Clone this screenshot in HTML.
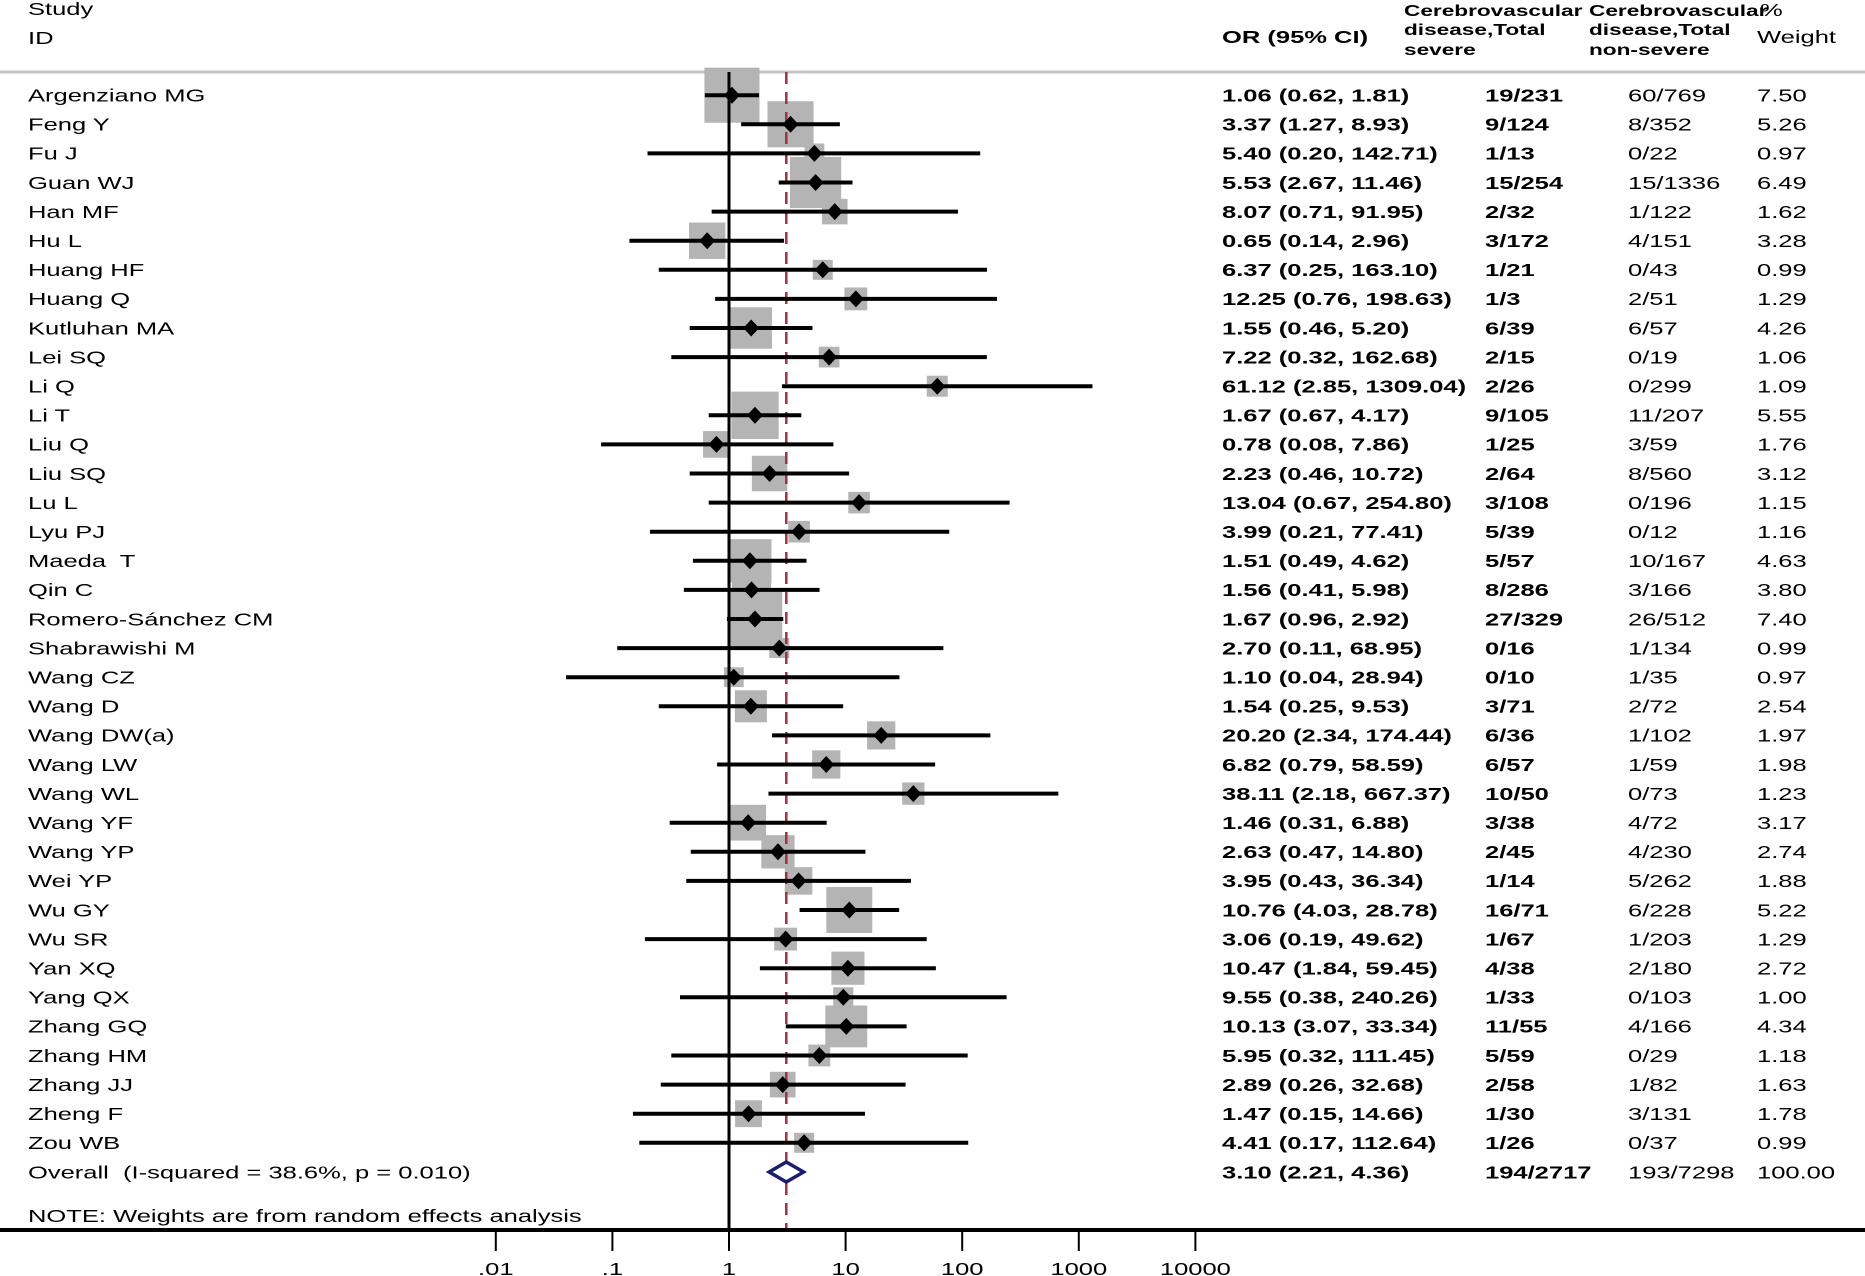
<!DOCTYPE html>
<html><head><meta charset="utf-8"><style>
html,body{margin:0;padding:0;background:#fff;}
svg{display:block;}
text{font-family:"Liberation Sans",Arial,sans-serif;fill:#000;white-space:pre;}
</style></head><body>
<svg id="chart" width="1865" height="1276" viewBox="0 0 1865 1276" xmlns="http://www.w3.org/2000/svg" xml:space="preserve"></svg>
<script>
const studies=["Argenziano MG","Feng Y","Fu J","Guan WJ","Han MF","Hu L","Huang HF","Huang Q","Kutluhan MA","Lei SQ","Li Q","Li T","Liu Q","Liu SQ","Lu L","Lyu PJ","Maeda  T","Qin C","Romero-Sánchez CM","Shabrawishi M","Wang CZ","Wang D","Wang DW(a)","Wang LW","Wang WL","Wang YF","Wang YP","Wei YP","Wu GY","Wu SR","Yan XQ","Yang QX","Zhang GQ","Zhang HM","Zhang JJ","Zheng F","Zou WB"];
const orVals=[1.06,3.37,5.40,5.53,8.07,0.65,6.37,12.25,1.55,7.22,61.12,1.67,0.78,2.23,13.04,3.99,1.51,1.56,1.67,2.70,1.10,1.54,20.20,6.82,38.11,1.46,2.63,3.95,10.76,3.06,10.47,9.55,10.13,5.95,2.89,1.47,4.41];
const loVals=[0.62,1.27,0.20,2.67,0.71,0.14,0.25,0.76,0.46,0.32,2.85,0.67,0.08,0.46,0.67,0.21,0.49,0.41,0.96,0.11,0.04,0.25,2.34,0.79,2.18,0.31,0.47,0.43,4.03,0.19,1.84,0.38,3.07,0.32,0.26,0.15,0.17];
const hiVals=[1.81,8.93,142.71,11.46,91.95,2.96,163.10,198.63,5.20,162.68,1309.04,4.17,7.86,10.72,254.80,77.41,4.62,5.98,2.92,68.95,28.94,9.53,174.44,58.59,667.37,6.88,14.80,36.34,28.78,49.62,59.45,240.26,33.34,111.45,32.68,14.66,112.64];
const severe=["19/231","9/124","1/13","15/254","2/32","3/172","1/21","1/3","6/39","2/15","2/26","9/105","1/25","2/64","3/108","5/39","5/57","8/286","27/329","0/16","0/10","3/71","6/36","6/57","10/50","3/38","2/45","1/14","16/71","1/67","4/38","1/33","11/55","5/59","2/58","1/30","1/26"];
const nonsevere=["60/769","8/352","0/22","15/1336","1/122","4/151","0/43","2/51","6/57","0/19","0/299","11/207","3/59","8/560","0/196","0/12","10/167","3/166","26/512","1/134","1/35","2/72","1/102","1/59","0/73","4/72","4/230","5/262","6/228","1/203","2/180","0/103","4/166","0/29","1/82","3/131","0/37"];
const weights=[7.50,5.26,0.97,6.49,1.62,3.28,0.99,1.29,4.26,1.06,1.09,5.55,1.76,3.12,1.15,1.16,4.63,3.80,7.40,0.99,0.97,2.54,1.97,1.98,1.23,3.17,2.74,1.88,5.22,1.29,2.72,1.00,4.34,1.18,1.63,1.78,0.99];
const overall=[3.10,2.21,4.36];
const tickVals=[0.01,0.1,1,10,100,1000,10000];
const tickLabels=[".01",".1","1","10","100","1000","10000"];

const svg=document.getElementById('chart');
const NS='http://www.w3.org/2000/svg';
const X0=729, DEC=116.6, Y0=95.2, DY=29.1, FS=17.5, SX=1.46;
const xs=v=>X0+Math.log10(v)*DEC;
const ys=i=>Y0+i*DY;
function mk(tag,attrs){const e=document.createElementNS(NS,tag);for(const k in attrs)e.setAttribute(k,attrs[k]);svg.appendChild(e);return e;}
function txt(x,y,s,size,bold,anchor){
  const t=mk('text',{transform:`translate(${x},${y}) scale(${SX},1)`,'font-size':size,'font-weight':bold?'bold':'normal','text-anchor':anchor||'start'});
  t.textContent=s;return t;}

let t;
t=txt(28,15,"Study",FS,false);


t=txt(28,44,"ID",FS,false);


t=txt(1222,43,"OR (95% CI)",FS,true);


[["Cerebrovascular",16],["disease,Total",35],["severe",55]].forEach(([s,y])=>{
  const e=txt(1404,y,s,15.5,true);
  
  
});
[["Cerebrovascular",16],["disease,Total",35],["non-severe",55]].forEach(([s,y])=>{
  const e=txt(1589,y,s,15.5,true);
  
  
});
t=txt(1760,16,"%",FS,false);


t=txt(1757,43,"Weight",FS,false);



let r=mk('rect',{x:0,y:70.5,width:1865,height:3,fill:'#c4c4c4'});



studies.forEach((s,i)=>{
  const side=20.1*Math.sqrt(weights[i]);
  const b=mk('rect',{x:xs(orVals[i])-side/2,y:ys(i)-side/2,width:side,height:side,fill:'#b4b4b4'});
  
  
});

let yOv=1172;
let l=mk('line',{x1:X0,y1:72,x2:X0,y2:1230,stroke:'#000','stroke-width':3});


let xo=xs(overall[0]);
l=mk('line',{x1:xo,y1:72,x2:xo,y2:yOv-11,stroke:'#a3303c','stroke-width':2.5,'stroke-dasharray':'12,8'});


l=mk('line',{x1:xo,y1:yOv+11,x2:xo,y2:1230,stroke:'#a3303c','stroke-width':2.5,'stroke-dasharray':'12,8'});



studies.forEach((s,i)=>{
  const y=ys(i);
  const ci=mk('line',{x1:xs(loVals[i]),y1:y,x2:xs(hiVals[i]),y2:y,stroke:'#000','stroke-width':4});
  
  
  const cx=xs(orVals[i]);
  const d=mk('polygon',{points:`${cx-8},${y} ${cx},${y-8.5} ${cx+8},${y} ${cx},${y+8.5}`,fill:'#000'});
  
  
  const bl=y+6.3;
  let e=txt(28,bl,s,FS,false);
  
  
  e=txt(1222,bl,`${orVals[i].toFixed(2)} (${loVals[i].toFixed(2)}, ${hiVals[i].toFixed(2)})`,FS,true);
  
  
  e=txt(1485,bl,severe[i],FS,true);
  
  
  e=txt(1628,bl,nonsevere[i],FS,false);
  
  
  e=txt(1757,bl,weights[i].toFixed(2),FS,false);
  
  
});

const xl=xs(overall[1]),xh=xs(overall[2]);
let od=mk('polygon',{points:`${xl},${yOv} ${xo},${yOv-10} ${xh},${yOv} ${xo},${yOv+10}`,fill:'none',stroke:'#1c1c70','stroke-width':3.5});


t=txt(28,yOv+6.3,"Overall  (I-squared = 38.6%, p = 0.010)",FS,false);


t=txt(1222,yOv+6.3,"3.10 (2.21, 4.36)",FS,true);


t=txt(1485,yOv+6.3,"194/2717",FS,true);


t=txt(1628,yOv+6.3,"193/7298",FS,false);


t=txt(1757,yOv+6.3,"100.00",FS,false);


t=txt(28,1222,"NOTE: Weights are from random effects analysis",FS,false);



l=mk('line',{x1:0,y1:1230,x2:1865,y2:1230,stroke:'#000','stroke-width':4});


tickVals.forEach((v,i)=>{
  const x=xs(v);
  const tk=mk('line',{x1:x,y1:1230,x2:x,y2:1251,stroke:'#000','stroke-width':2});
  
  
  const lb=txt(x,1275,tickLabels[i],FS,false,'middle');
  
  
});
</script>
</body></html>
